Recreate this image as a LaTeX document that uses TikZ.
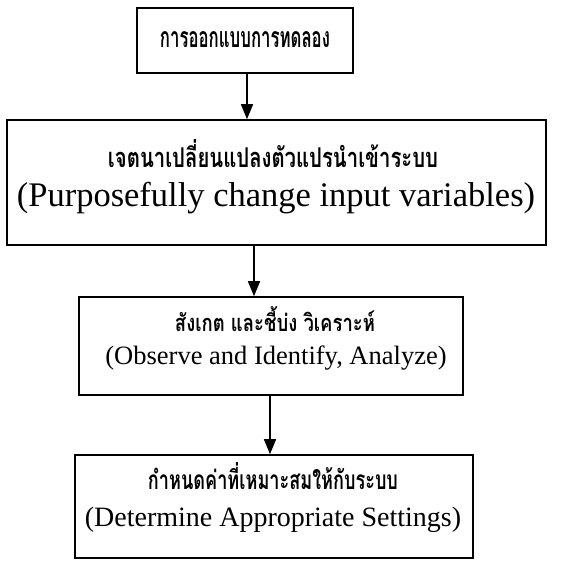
\documentclass[tikz,border=0pt]{standalone}
\usepackage{fontspec}
\setmainfont{Liberation Serif}
\newfontfamily\thaifont[Script=Thai]{Loma}
\usetikzlibrary{arrows.meta}
\newcommand\thline[3]{\resizebox{#1}{#2}{\thaifont\bfseries #3}}
\begin{document}
\begin{tikzpicture}[x=1pt,y=-1pt,
  box/.style={draw, line width=1.6pt, inner sep=0pt, rectangle},
  txt/.style={inner sep=0pt, anchor=center},
  arr/.style={line width=1.6pt, -{Triangle[width=12pt,length=15pt]}}]
\useasboundingbox (0,0) rectangle (566,567);
% boxes
\node[box, minimum width=216pt, minimum height=65pt] (b1) at (245,40.5) {};
\node[box, minimum width=539pt, minimum height=125pt] (b2) at (276.5,182.5) {};
\node[box, minimum width=384pt, minimum height=98pt] (b3) at (271,346) {};
\node[box, minimum width=398pt, minimum height=103pt] (b4) at (274,506.5) {};
% texts
\node[txt] (t1) at (245,40) {\thline{170pt}{16pt}{การออกแบบการทดลอง}};
\node[txt] (t2a) at (273,154) {\thline{330pt}{28pt}{เจตนาเปลี่ยนแปลงตัวแปรนำเข้าระบบ}};
\node[txt] (t2b) at (276,198) {\fontsize{34.5}{36}\selectfont (Purposefully change input variables)};
\node[txt] (t3a) at (275,319) {\thline{200pt}{25pt}{สังเกต และชี้บ่ง วิเคราะห์}};
\node[txt] (t3b) at (276,358) {\fontsize{26.5}{28}\selectfont (Observe and Identify, Analyze)};
\node[txt] (t4a) at (273,476) {\thline{250pt}{27pt}{กำหนดค่าที่เหมาะสมให้กับระบบ}};
\node[txt] (t4b) at (273,520) {\fontsize{28}{30}\selectfont (Determine Appropriate Settings)};
% arrows
\draw[arr] (b1.south -| 247,0) -- (b2.north -| 247,0);
\draw[arr] (b2.south -| 254,0) -- (b3.north -| 254,0);
\draw[arr] (b3.south -| 270,0) -- (b4.north -| 270,0);
\end{tikzpicture}
\end{document}
